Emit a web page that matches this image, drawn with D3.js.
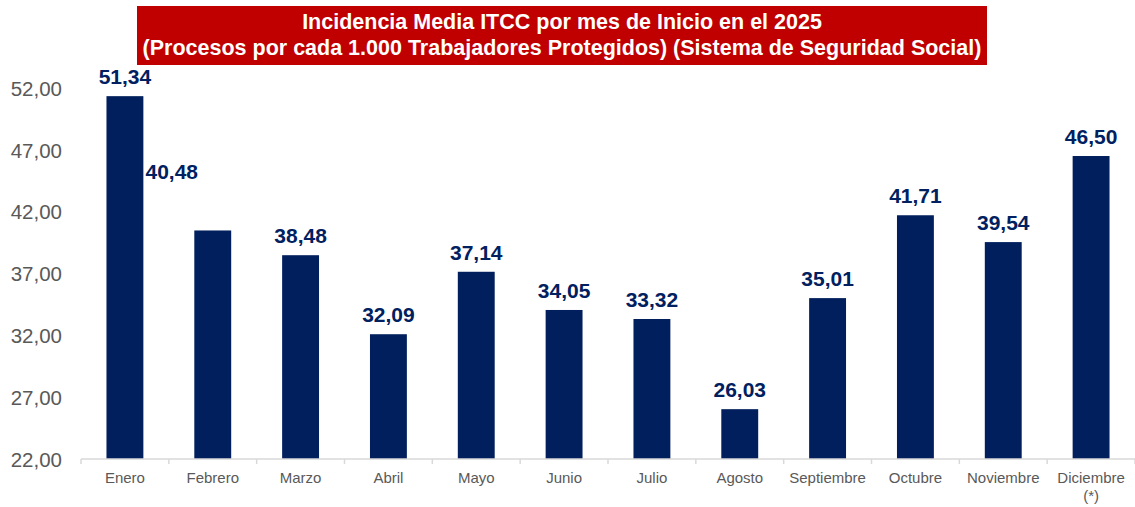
<!DOCTYPE html>
<html>
<head>
<meta charset="utf-8">
<script src="https://cdn.jsdelivr.net/npm/d3@7"></script>
<style>
  body { margin: 0; background: #fff; }
  svg { font-family: "Liberation Sans", Arial, sans-serif; }
</style>
</head>
<body>
<svg id="chart" width="1135" height="507"></svg>
<script>
// datos
var meses = ['Enero','Febrero','Marzo','Abril','Mayo','Junio','Julio','Agosto','Septiembre','Octubre','Noviembre','Diciembre\n(*)'];
var valores = [51.34, 40.48, 38.48, 32.09, 37.14, 34.05, 33.32, 26.03, 35.01, 41.71, 39.54, 46.50];
var ticksY = [22, 27, 32, 37, 42, 47, 52];
var titulo = ['Incidencia Media ITCC por mes de Inicio en el 2025',
              '(Procesos por cada 1.000 Trabajadores Protegidos) (Sistema de Seguridad Social)'];

var svg = d3.select('#chart');
var fmt = function(v){ return v.toFixed(2).replace('.', ','); };

var x = d3.scaleBand().domain(meses).range([81, 1135]).paddingInner(0.58).paddingOuter(0.29);
var y = d3.scaleLinear().domain([22, 52]).range([459, 88]);

// titulo
svg.append('rect').attr('x', 137).attr('y', 6).attr('width', 850).attr('height', 59).attr('fill', '#c00000');
svg.selectAll('text.tit').data(titulo).enter().append('text')
   .attr('class','tit')
   .attr('x', 562).attr('y', function(d,i){ return 29 + i*26; })
   .attr('text-anchor','middle')
   .attr('fill','#fff').attr('font-weight','bold').attr('font-size', 21.5)
   .text(function(d){ return d; });

// barras
svg.selectAll('rect.bar').data(valores).enter().append('rect')
   .attr('class','bar')
   .attr('x', function(d,i){ return x(meses[i]); })
   .attr('width', x.bandwidth())
   .attr('y', function(d){ return y(d); })
   .attr('height', function(d){ return y(22) - y(d); })
   .attr('fill', '#001f5c');

// etiquetas de valor (Febrero va desplazada como en el original)
svg.selectAll('text.val').data(valores).enter().append('text')
   .attr('class','val')
   .attr('x', function(d,i){ return x(meses[i]) + x.bandwidth()/2 + (i==1 ? -41 : 0); })
   .attr('y', function(d,i){ return i==1 ? 179 : y(d) - 12; })
   .attr('text-anchor','middle')
   .attr('fill','#002060').attr('font-weight','bold').attr('font-size', 21)
   .text(fmt);

// eje y
var gy = svg.append('g').attr('transform','translate(62,0)')
   .call(d3.axisLeft(y).tickValues(ticksY).tickFormat(fmt).tickSize(0).tickPadding(0));
gy.select('.domain').remove();
gy.selectAll('text').attr('fill','#595959').attr('font-size', 20.5).attr('dy','0.35em');

// eje x
var gx = svg.append('g').attr('transform','translate(0,459)')
   .call(d3.axisBottom(x).tickSize(0).tickFormat(''));
gx.select('.domain').attr('stroke','#d9d9d9').attr('stroke-width', 1.5).attr('d','M81,0H1135');
var lim = d3.range(meses.length + 1).map(function(i){ return 81 + i*(1135-81)/meses.length; });
gx.selectAll('line.sep').data(lim).enter().append('line')
   .attr('class','sep')
   .attr('x1', function(d){ return d; }).attr('x2', function(d){ return d; })
   .attr('y1', 0).attr('y2', 5).attr('stroke','#d9d9d9').attr('stroke-width', 1.5);

var lbl = svg.selectAll('text.mes').data(meses).enter().append('text')
   .attr('class','mes')
   .attr('x', function(d){ return x(d) + x.bandwidth()/2; })
   .attr('y', 483)
   .attr('text-anchor','middle')
   .attr('fill','#595959').attr('font-size', 15);
lbl.selectAll('tspan').data(function(d){ return d.split('\n'); }).enter().append('tspan')
   .attr('x', function(){ return this.parentNode.getAttribute('x'); })
   .attr('dy', function(d,i){ return i ? 18 : 0; })
   .text(function(d){ return d; });
</script>
</body>
</html>
